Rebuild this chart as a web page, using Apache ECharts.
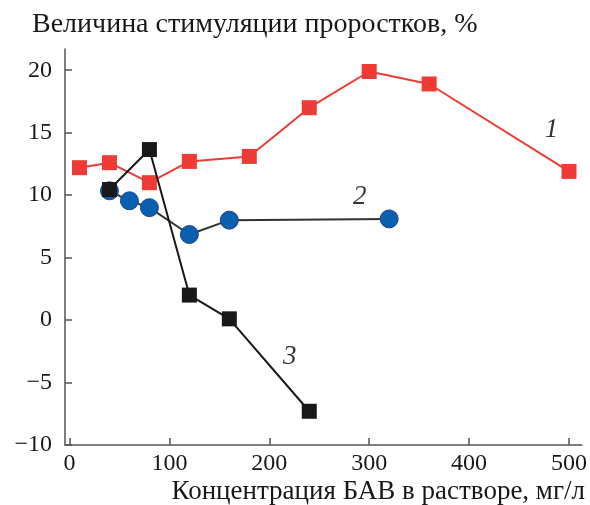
<!DOCTYPE html>
<html>
<head>
<meta charset="utf-8">
<script src="https://cdn.jsdelivr.net/npm/echarts@6/dist/echarts.min.js"></script>
<style>
html,body{margin:0;padding:0;background:#fff;}
#chart{width:590px;height:505px;}
</style>
</head>
<body>
<div id="chart"></div>
<script>
// Data
var series1X = [10, 40, 80, 120, 180, 240, 300, 360, 500];
var series1Y = [12.2, 12.6, 11.0, 12.7, 13.1, 17.0, 19.9, 18.9, 11.9];
var series2X = [40, 60, 80, 120, 160, 320];
var series2Y = [10.35, 9.55, 9.0, 6.85, 8.0, 8.1];
var series3X = [40, 80, 120, 160, 240];
var series3Y = [10.45, 13.65, 2.0, 0.1, -7.3];
var curveLabels = ['1', '2', '3'];
var curveLabelX = [482.5, 290.5, 220.5];
var curveLabelY = [15.25, 9.88, -2.94];
var xTicks = [0, 100, 200, 300, 400, 500];
var yTicks = [-10, -5, 0, 5, 10, 15, 20];
var titleText = 'Величина стимуляции проростков, %';
var xName = 'Концентрация БАВ в растворе, мг/л';

function zip(xs, ys) { return xs.map(function (x, i) { return [x, ys[i]]; }); }

var font = 'Liberation Serif';
var ink = '#1a1718';
var chart = echarts.init(document.getElementById('chart'));
chart.setOption({
  animation: false,
  backgroundColor: '#fff',
  title: {
    text: titleText, left: 27, top: 6,
    textStyle: { fontFamily: font, fontSize: 28, fontWeight: 'normal', color: ink }
  },
  graphic: [{
    type: 'text', right: 5, top: 478,
    style: { text: xName, font: '27px "Liberation Serif"', fill: ink }
  }],
  grid: { left: 65, right: 7, top: 49, bottom: 60, containLabel: false },
  xAxis: {
    type: 'value', min: -4.5, max: 513,
    splitLine: { show: false },
    axisLine: { onZero: false, lineStyle: { color: '#555', width: 1.5 } },
    axisTick: { inside: true, length: 7, customValues: xTicks, lineStyle: { color: '#555', width: 1.5 } },
    axisLabel: { customValues: xTicks, margin: 7, fontFamily: font, fontSize: 24, color: ink }
  },
  yAxis: {
    type: 'value', min: -10, max: 21.7,
    splitLine: { show: false },
    axisLine: { show: true, onZero: false, lineStyle: { color: '#555', width: 1.5 } },
    axisTick: { show: true, inside: true, length: 7, customValues: yTicks, lineStyle: { color: '#555', width: 1.5 } },
    axisLabel: {
      customValues: yTicks, margin: 13, fontFamily: font, fontSize: 24, color: ink,
      formatter: function (v) { return String(v).replace('-', '\u2212'); }
    }
  },
  series: [
    {
      type: 'line', data: zip(series1X, series1Y), symbol: 'rect', symbolSize: 15,
      lineStyle: { color: '#ee3b36', width: 2 }, itemStyle: { color: '#ee3b36' }, z: 3
    },
    {
      type: 'line', data: zip(series2X, series2Y), symbol: 'circle', symbolSize: 18,
      lineStyle: { color: '#333', width: 2 }, itemStyle: { color: '#0a5fae', borderColor: '#1e3f94', borderWidth: 1 }, z: 2
    },
    {
      type: 'line', data: zip(series3X, series3Y), symbol: 'rect', symbolSize: 15,
      lineStyle: { color: ink, width: 2 }, itemStyle: { color: ink }, z: 4
    },
    {
      type: 'scatter', symbolSize: 1, silent: true,
      itemStyle: { color: 'rgba(0,0,0,0)' },
      data: curveLabels.map(function (t, i) { return { name: t, value: [curveLabelX[i], curveLabelY[i]] }; }),
      label: {
        show: true, position: 'inside', formatter: '{b}',
        fontFamily: font, fontStyle: 'italic', fontSize: 27, color: '#000',
        textBorderWidth: 0, textBorderColor: 'transparent'
      }
    }
  ]
});
</script>
</body>
</html>
